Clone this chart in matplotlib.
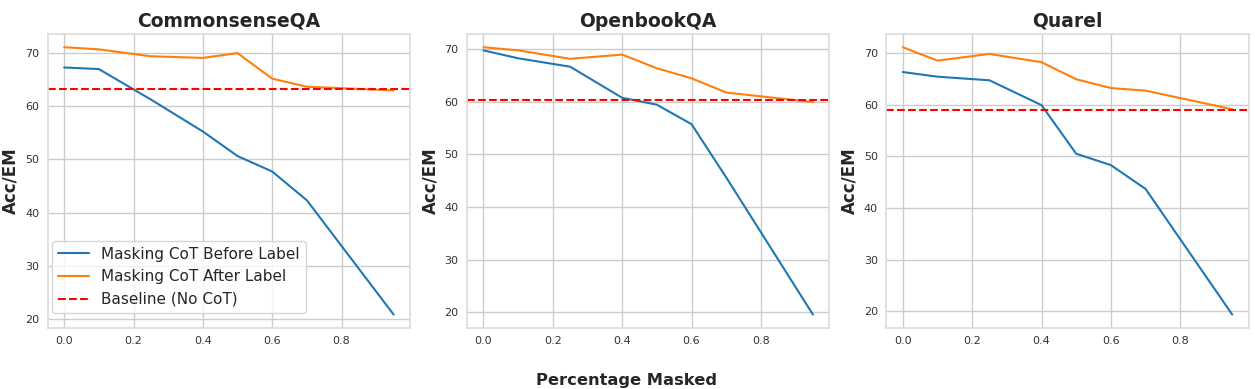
import matplotlib
matplotlib.use("Agg")
import matplotlib.pyplot as plt
import seaborn as sns

sns.set_theme(style="whitegrid")
plt.rcParams["font.family"] = ["DejaVu Sans"]

masked = [0.0, 0.1, 0.25, 0.4, 0.5, 0.6, 0.7, 0.95]

titles = ["CommonsenseQA", "OpenbookQA", "Quarel"]

before_label = [
    [67.2, 66.9, 61.2, 55.2, 50.6, 47.7, 42.3, 20.9],
    [69.7, 68.2, 66.6, 60.7, 59.4, 55.7, 45.6, 19.6],
    [66.3, 65.4, 64.7, 59.9, 50.5, 48.3, 43.7, 19.4],
]
after_label = [
    [71.0, 70.6, 69.3, 69.0, 69.9, 65.1, 63.6, 62.9],
    [70.3, 69.7, 68.1, 68.9, 66.3, 64.4, 61.7, 59.9],
    [71.1, 68.5, 69.8, 68.2, 64.9, 63.2, 62.7, 59.1],
]
baseline = [63.1, 60.2, 59.0]

fig, axes = plt.subplots(1, 3, figsize=(12.55, 3.89), dpi=100)
fig.subplots_adjust(left=0.038, right=0.995, top=0.913, bottom=0.157, wspace=0.157)

for i, ax in enumerate(axes):
    ax.plot(masked, before_label[i], color="#1f77b4", lw=1.5, label="Masking CoT Before Label")
    ax.plot(masked, after_label[i], color="#ff7f0e", lw=1.5, label="Masking CoT After Label")
    ax.axhline(baseline[i], color="red", ls="--", lw=1.5, label="Baseline (No CoT)")
    ax.set_title(titles[i], fontsize=13.5, fontweight="bold", pad=5)
    ax.set_ylabel("Acc/EM", fontsize=12, fontweight="bold", labelpad=4)
    ax.tick_params(labelsize=8, length=0, pad=6, labelcolor="#333333")
    for s in ax.spines.values():
        s.set_color("#dddddd")

axes[0].legend(loc="lower left", bbox_to_anchor=(0.0, 0.035), fontsize=11,
               borderaxespad=0.3)
fig.text(0.4996, 0.01, "Percentage Masked", ha="center", fontsize=11.7, fontweight="bold", color="#262626")

plt.savefig("out.png")
